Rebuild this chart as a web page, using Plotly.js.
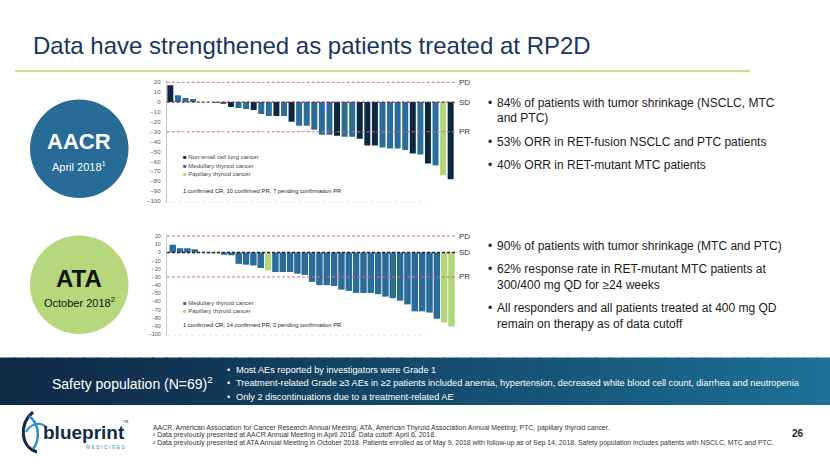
<!DOCTYPE html>
<html><head><meta charset="utf-8">
<script src="https://cdn.plot.ly/plotly-3.0.1.min.js"></script>
<style>html,body{margin:0;padding:0;background:#fff;overflow:hidden}#chart{width:830px;height:467px}</style>
</head><body><div id="chart"></div>
<script>
// ---------------- data ----------------
const aacrPatient = [1,2,3,4,5,6,7,8,9,10,11,12,13,14,15,16,17,18,19,20,21,22,23,24,25,26,27,28,29,30,31,32,33,34,35,36,37,38];
const aacrChange = [17,7,4,3,0,0,-1,-2,-5,-6,-7,-8,-12,-14,-14,-14,-20,-24,-24,-28,-33,-33,-34,-35,-35,-37,-44,-44,-46,-47,-47,-48.5,-52,-53,-62,-64,-74,-78];
const aacrType = ['NSCLC','MTC','MTC','MTC','MTC','MTC','MTC','MTC','NSCLC','MTC','MTC','NSCLC','MTC','MTC','NSCLC','MTC','NSCLC','MTC','MTC','MTC','MTC','MTC','NSCLC','MTC','MTC','NSCLC','NSCLC','NSCLC','MTC','MTC','MTC','MTC','NSCLC','MTC','NSCLC','MTC','PTC','NSCLC'];

const ataPatient = [1,2,3,4,5,6,7,8,9,10,11,12,13,14,15,16,17,18,19,20,21,22,23,24,25,26,27,28,29,30,31,32,33,34,35,36,37,38,39];
const ataChange = [9.5,5,5,4,-0.5,-1,-1.5,-3,-3.5,-14,-15,-16,-19,-22,-24,-24,-24,-26,-27.5,-36,-40,-40,-41,-45.5,-47,-49.5,-49.5,-49.5,-51,-54,-56,-59,-63.5,-72,-72,-73.5,-81,-85.5,-90.5];
const ataType = ['MTC','MTC','MTC','MTC','MTC','MTC','PTC','MTC','MTC','MTC','MTC','MTC','MTC','PTC','MTC','MTC','MTC','MTC','MTC','MTC','MTC','MTC','MTC','MTC','MTC','MTC','MTC','MTC','MTC','MTC','MTC','MTC','MTC','MTC','MTC','MTC','MTC','PTC','PTC'];

const yTicks = [-100,-90,-80,-70,-60,-50,-40,-30,-20,-10,0,10,20];
const refLevels = [20,0,-30];
const refLabels = ['PD','SD','PR'];

const aacrLegendTypes = ['NSCLC','MTC','PTC'];
const aacrLegendLabels = ['Non-small cell lung cancer','Medullary thyroid cancer','Papillary thyroid cancer'];
const ataLegendTypes = ['MTC','PTC'];
const ataLegendLabels = ['Medullary thyroid cancer','Papillary thyroid cancer'];
const aacrNote = '1 confirmed CR; 10 confirmed PR, 7 pending confirmation PR';
const ataNote = '1 confirmed CR; 14 confirmed PR, 2 pending confirmation PR';

const titleText = 'Data have strengthened as patients treated at RP2D';
const aacrBullets = [
  ['84% of patients with tumor shrinkage (NSCLC, MTC','and PTC)'],
  ['53% ORR in RET-fusion NSCLC and PTC patients'],
  ['40% ORR in RET-mutant MTC patients']
];
const ataBullets = [
  ['90% of patients with tumor shrinkage (MTC and PTC)'],
  ['62% response rate in RET-mutant MTC patients at','300/400 mg QD for \u226524 weeks'],
  ['All responders and all patients treated at 400 mg QD','remain on therapy as of data cutoff']
];
const safetyBullets = [
  'Most AEs reported by investigators were Grade 1',
  'Treatment-related Grade \u22653 AEs in \u22652 patients included anemia, hypertension, decreased white blood cell count, diarrhea and neutropenia',
  'Only 2 discontinuations due to a treatment-related AE'
];
const footnotes = [
  'AACR, American Association for Cancer Research Annual Meeting; ATA, American Thyroid Association Annual Meeting; PTC, papillary thyroid cancer.',
  '\u00b9 Data previously presented at AACR Annual Meeting in April 2018. Data cutoff: April 6, 2018.',
  '\u00b2 Data previously presented at ATA Annual Meeting in October 2018. Patients enrolled as of May 9, 2018 with follow-up as of Sep 14, 2018. Safety population includes patients with NSCLC, MTC and PTC.'
];

// ---------------- styling ----------------
const W = 830, H = 467;
const px = x => x / W, py = y => 1 - y / H;
const typeColor = {NSCLC:'#0b2843', MTC:'#2b6c99', PTC:'#b3d67b'};
const FONT = 'Arial, "Liberation Sans", sans-serif';

const traces = [
  {type:'bar', x:aacrPatient, y:aacrChange, xaxis:'x', yaxis:'y', width:0.79,
   marker:{color:aacrType.map(t=>typeColor[t]), line:{width:0}}, hoverinfo:'y'},
  {type:'bar', x:ataPatient, y:ataChange, xaxis:'x2', yaxis:'y2', width:0.88,
   marker:{color:ataType.map(t=>typeColor[t]), line:{width:0}}, hoverinfo:'y'}
];

function yax(domain, fs){
  return {domain:domain, range:[-102,22], tickvals:yTicks, showgrid:false, zeroline:false,
    showline:true, linecolor:'#c9c9c9', linewidth:1, ticks:'outside', ticklen:4,
    tickcolor:'rgba(0,0,0,0)', tickfont:{size:fs, color:'#555', family:FONT}, fixedrange:true};
}

const shapes = [];
const annotations = [];

// title + underline
annotations.push({xref:'paper', yref:'paper', x:px(31), y:py(46), xanchor:'left', yanchor:'middle',
  text:titleText, showarrow:false, font:{size:24, color:'#17375e', family:FONT}});
shapes.push({type:'line', xref:'paper', yref:'paper', x0:px(15), x1:px(750), y0:py(71), y1:py(71),
  line:{color:'#c8e08c', width:2}});

// circles
shapes.push({type:'circle', xref:'paper', yref:'paper', x0:px(30), x1:px(128.5), y0:py(198), y1:py(99.5),
  fillcolor:'#286b96', line:{width:0}, layer:'below'});
shapes.push({type:'circle', xref:'paper', yref:'paper', x0:px(30), x1:px(128.5), y0:py(334), y1:py(235.5),
  fillcolor:'#b7d77d', line:{width:0}, layer:'below'});
annotations.push({xref:'paper', yref:'paper', x:px(79.3), y:py(141), xanchor:'center', yanchor:'middle',
  text:'<b>AACR</b>', showarrow:false, font:{size:22, color:'#ffffff', family:FONT}});
annotations.push({xref:'paper', yref:'paper', x:px(79.3), y:py(166), xanchor:'center', yanchor:'middle',
  text:'April 2018<sup>1</sup>', showarrow:false, font:{size:11, color:'#ffffff', family:FONT}});
annotations.push({xref:'paper', yref:'paper', x:px(79.3), y:py(278), xanchor:'center', yanchor:'middle',
  text:'<b>ATA</b>', showarrow:false, font:{size:24, color:'#111111', family:FONT}});
annotations.push({xref:'paper', yref:'paper', x:px(79.3), y:py(302), xanchor:'center', yanchor:'middle',
  text:'October 2018<sup>2</sup>', showarrow:false, font:{size:11, color:'#111111', family:FONT}});

// reference lines + labels for both charts
function refs(xd, yr, sdColor, sdWidth){
  refLevels.forEach((v,i)=>{
    const isSD = v === 0;
    shapes.push({type:'line', xref:xd, yref:yr, x0:0, x1:1, y0:v, y1:v, layer:'above',
      line:{color:isSD?sdColor:'#c8707f', width:isSD?sdWidth:1, dash:'3px,2px'}});
    annotations.push({xref:'paper', yref:yr, x:px(457), y:v, xanchor:'left', yanchor:'middle',
      text:refLabels[i], showarrow:false, font:{size:8, color:'#333', family:FONT}});
  });
  shapes.push({type:'line', xref:xd, yref:yr, x0:0, x1:0.9, y0:-101, y1:-101, layer:'below',
    line:{color:'#e4e4e4', width:1, dash:'dot'}});
}
refs('x domain','y','#7a2a38',1.2);
refs('x2 domain','y2','#222222',1.5);

// legends + notes
aacrLegendTypes.forEach((t,i)=>{
  annotations.push({xref:'paper', yref:'paper', x:px(181), y:py(157.3 + i*8.4), xanchor:'left', yanchor:'middle',
    showarrow:false, text:'<span style="color:'+typeColor[t]+'">\u25a0</span> '+aacrLegendLabels[i],
    font:{size:6, color:'#444', family:FONT}});
});
annotations.push({xref:'paper', yref:'paper', x:px(181), y:py(191), xanchor:'left', yanchor:'middle',
  showarrow:false, text:aacrNote, font:{size:5.8, color:'#222', family:FONT}});
ataLegendTypes.forEach((t,i)=>{
  annotations.push({xref:'paper', yref:'paper', x:px(181), y:py(302.7 + i*8.4), xanchor:'left', yanchor:'middle',
    showarrow:false, text:'<span style="color:'+typeColor[t]+'">\u25a0</span> '+ataLegendLabels[i],
    font:{size:6, color:'#444', family:FONT}});
});
annotations.push({xref:'paper', yref:'paper', x:px(181), y:py(324.5), xanchor:'left', yanchor:'middle',
  showarrow:false, text:ataNote, font:{size:5.8, color:'#222', family:FONT}});

// right-hand bullets
function bulletBlock(list, startY){
  let y = startY;
  list.forEach(lines=>{
    annotations.push({xref:'paper', yref:'paper', x:px(486), y:py(y), xanchor:'left', yanchor:'middle',
      showarrow:false, text:'\u2022', font:{size:12, color:'#1a1a1a', family:FONT}});
    lines.forEach((ln,j)=>{
      annotations.push({xref:'paper', yref:'paper', x:px(495), y:py(y + j*16), xanchor:'left', yanchor:'middle',
        showarrow:false, text:ln, font:{size:12, color:'#1a1a1a', family:FONT}});
    });
    y += (lines.length-1)*16 + 23;
  });
}
bulletBlock(aacrBullets, 102.5);
bulletBlock(ataBullets, 246);

// safety band (gradient built from strips)
const N = 60;
const c0 = [14,42,71], c1 = [29,112,150];
for (let i=0;i<N;i++){
  const t = Math.pow(i/(N-1), 1.15);
  const c = c0.map((v,k)=>Math.round(v + (c1[k]-v)*t));
  shapes.push({type:'rect', xref:'paper', yref:'paper', x0:i/N, x1:(i+1)/N + 0.002, y0:py(405), y1:py(357.5),
    fillcolor:'rgb('+c.join(',')+')', line:{width:0}, layer:'below'});
}
annotations.push({xref:'paper', yref:'paper', x:px(50), y:py(383), xanchor:'left', yanchor:'middle',
  showarrow:false, text:'Safety population (N=69)<sup>2</sup>', font:{size:14, color:'#ffffff', family:FONT}});
safetyBullets.forEach((s,i)=>{
  annotations.push({xref:'paper', yref:'paper', x:px(225), y:py(369.5 + i*13.5), xanchor:'left', yanchor:'middle',
    showarrow:false, text:'\u2022', font:{size:9, color:'#ffffff', family:FONT}});
  annotations.push({xref:'paper', yref:'paper', x:px(234), y:py(369.5 + i*13.5), xanchor:'left', yanchor:'middle',
    showarrow:false, text:s, font:{size:9.2, color:'#ffffff', family:FONT}});
});

// footer
footnotes.forEach((s,i)=>{
  annotations.push({xref:'paper', yref:'paper', x:px(151), y:py(427.5 + i*7.5), xanchor:'left', yanchor:'middle',
    showarrow:false, text:s, font:{size:6.9, color:'#333', family:FONT}});
});
annotations.push({xref:'paper', yref:'paper', x:px(806), y:py(433), xanchor:'right', yanchor:'middle',
  showarrow:false, text:'<b>26</b>', font:{size:10, color:'#222', family:FONT}});

// logo
const P = (x,y)=> px(x).toFixed(5)+','+py(y).toFixed(5);
shapes.push({type:'path', xref:'paper', yref:'paper',
  path:'M'+P(33,412)+' C'+P(19,424)+' '+P(20,447)+' '+P(37,452),
  line:{color:'#0f2b48', width:3}, fillcolor:'rgba(0,0,0,0)'});
shapes.push({type:'path', xref:'paper', yref:'paper',
  path:'M'+P(29,416)+' C'+P(40,424)+' '+P(40,440)+' '+P(33,449),
  line:{color:'#2a8fc4', width:2.5}, fillcolor:'rgba(0,0,0,0)'});
shapes.push({type:'path', xref:'paper', yref:'paper',
  path:'M'+P(26,432)+' C'+P(30,424)+' '+P(40,421)+' '+P(46,427),
  line:{color:'#2a8fc4', width:2}, fillcolor:'rgba(0,0,0,0)'});
annotations.push({xref:'paper', yref:'paper', x:px(41), y:py(432), xanchor:'left', yanchor:'middle',
  showarrow:false, text:'<b>blueprint</b>', font:{size:19, color:'#0f2b48', family:FONT}});
annotations.push({xref:'paper', yref:'paper', x:px(121), y:py(422), xanchor:'left', yanchor:'middle',
  showarrow:false, text:'TM', font:{size:3.5, color:'#0f2b48', family:FONT}});
annotations.push({xref:'paper', yref:'paper', x:px(84), y:py(446.5), xanchor:'left', yanchor:'middle',
  showarrow:false, text:'M E D I C I N E S', font:{size:5, color:'#2a8fc4', family:FONT}});

const layout = {
  width:W, height:H, margin:{l:0,r:0,t:0,b:0}, paper_bgcolor:'#ffffff', plot_bgcolor:'rgba(0,0,0,0)',
  showlegend:false, barmode:'overlay', font:{family:FONT},
  xaxis:{domain:[166.7/W, 455/W], range:[0.52,38.57], visible:false, fixedrange:true, anchor:'y'},
  yaxis:Object.assign(yax([1-203/H, 1-80.3/H], 6), {anchor:'x'}),
  xaxis2:{domain:[167/W, 455/W], range:[0.22,39.48], visible:false, fixedrange:true, anchor:'y2'},
  yaxis2:Object.assign(yax([1-335.9/H, 1-234.4/H], 5.5), {anchor:'x2'}),
  shapes:shapes, annotations:annotations
};

Plotly.newPlot('chart', traces, layout, {staticPlot:true, displayModeBar:false});
</script></body></html>
